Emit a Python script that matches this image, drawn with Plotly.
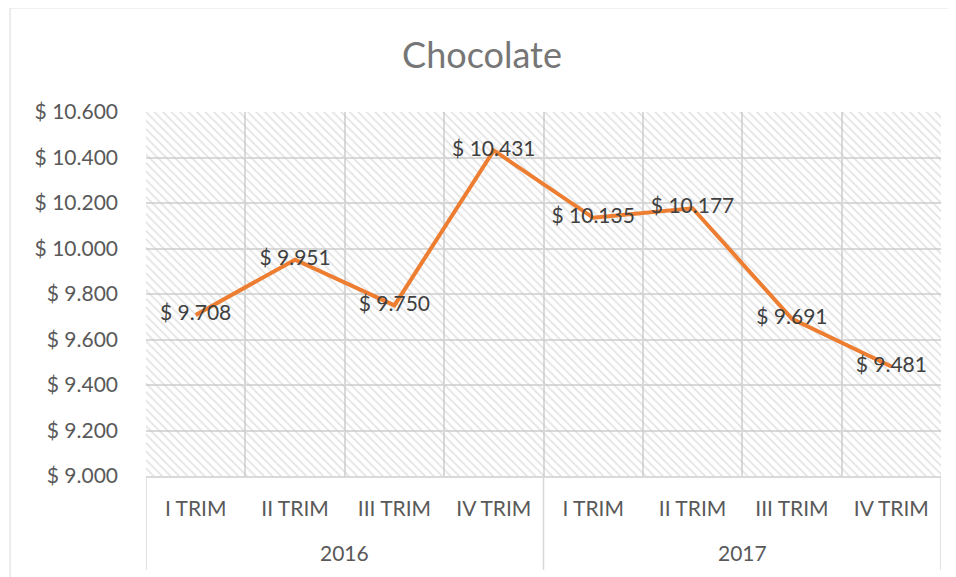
import plotly.graph_objects as go

quarters = ["I TRIM", "II TRIM", "III TRIM", "IV TRIM"] * 2
years = ["2016", "2017"]
prices = [9708, 9951, 9750, 10431, 10135, 10177, 9691, 9481]

y_min, y_max = 9000, 10600
pos = list(range(len(prices)))
year_pos = [1.5, 5.5]
bounds = [-0.5, 3.5, 7.5]
grid = "#d9d9d9"

fig = go.Figure()

# hatched background of the plot area
fig.add_trace(go.Bar(
    x=pos, y=[y_max - y_min] * len(prices), base=y_min,
    width=1, hoverinfo="skip", showlegend=False,
    marker=dict(color="rgba(0,0,0,0)", line=dict(width=0),
                pattern=dict(shape="\\", fgcolor="#c8c8c8", bgcolor="rgba(0,0,0,0)",
                             size=6, solidity=0.3)),
))

fig.add_trace(go.Scatter(
    x=pos, y=prices, mode="lines+text",
    line=dict(color="#ED7D31", width=4),
    texttemplate="$ %{y:,d}", textposition="middle center",
    textfont=dict(family="Lato", size=21, color="#404040"),
    showlegend=False,
))

# body margin of 8px is compensated in size and margins
fig.update_layout(
    width=948, height=569,
    margin=dict(l=138, r=15, t=104, b=101),
    paper_bgcolor="white", plot_bgcolor="white",
    separators=",.",
    font=dict(family="Lato", size=21, color="#595959"),
    title=dict(text="Chocolate", x=0.5, xanchor="center", y=0.917, yanchor="middle",
               font=dict(family="Lato", size=36, color="#767676")),
    bargap=0,
)
fig.update_yaxes(range=[y_min, y_max], dtick=200, tickprefix="$ ", tickformat=",d",
                 showgrid=True, gridcolor=grid, gridwidth=1.5, zeroline=False,
                 showline=False, ticks="", ticklabelstandoff=27)
fig.update_xaxes(range=[-0.5, 7.5], tickvals=pos, ticktext=quarters, showgrid=False,
                 zeroline=False, showline=True, linecolor=grid, linewidth=1.5, ticks="",
                 ticklabelstandoff=13,
                 minor=dict(tickvals=[b - 0.5 for b in range(len(prices) + 1)],
                            showgrid=True, gridcolor=grid, gridwidth=1.5, ticks=""))

for b in bounds:
    fig.add_shape(type="line", xref="x", yref="paper", x0=b, x1=b, y0=0, y1=-0.258,
                  line=dict(color=grid, width=1.5))
for yr, xp in zip(years, year_pos):
    fig.add_annotation(text=yr, x=xp, xref="x", y=-0.2115, yref="paper",
                       yanchor="middle", showarrow=False,
                       font=dict(family="Lato", size=21, color="#595959"))

fig.add_shape(type="rect", xref="paper", yref="paper", x0=-0.171, x1=1.05, y0=-0.35, y1=1.286,
              line=dict(color=grid, width=1), layer="below")

fig.write_html("out.html")
